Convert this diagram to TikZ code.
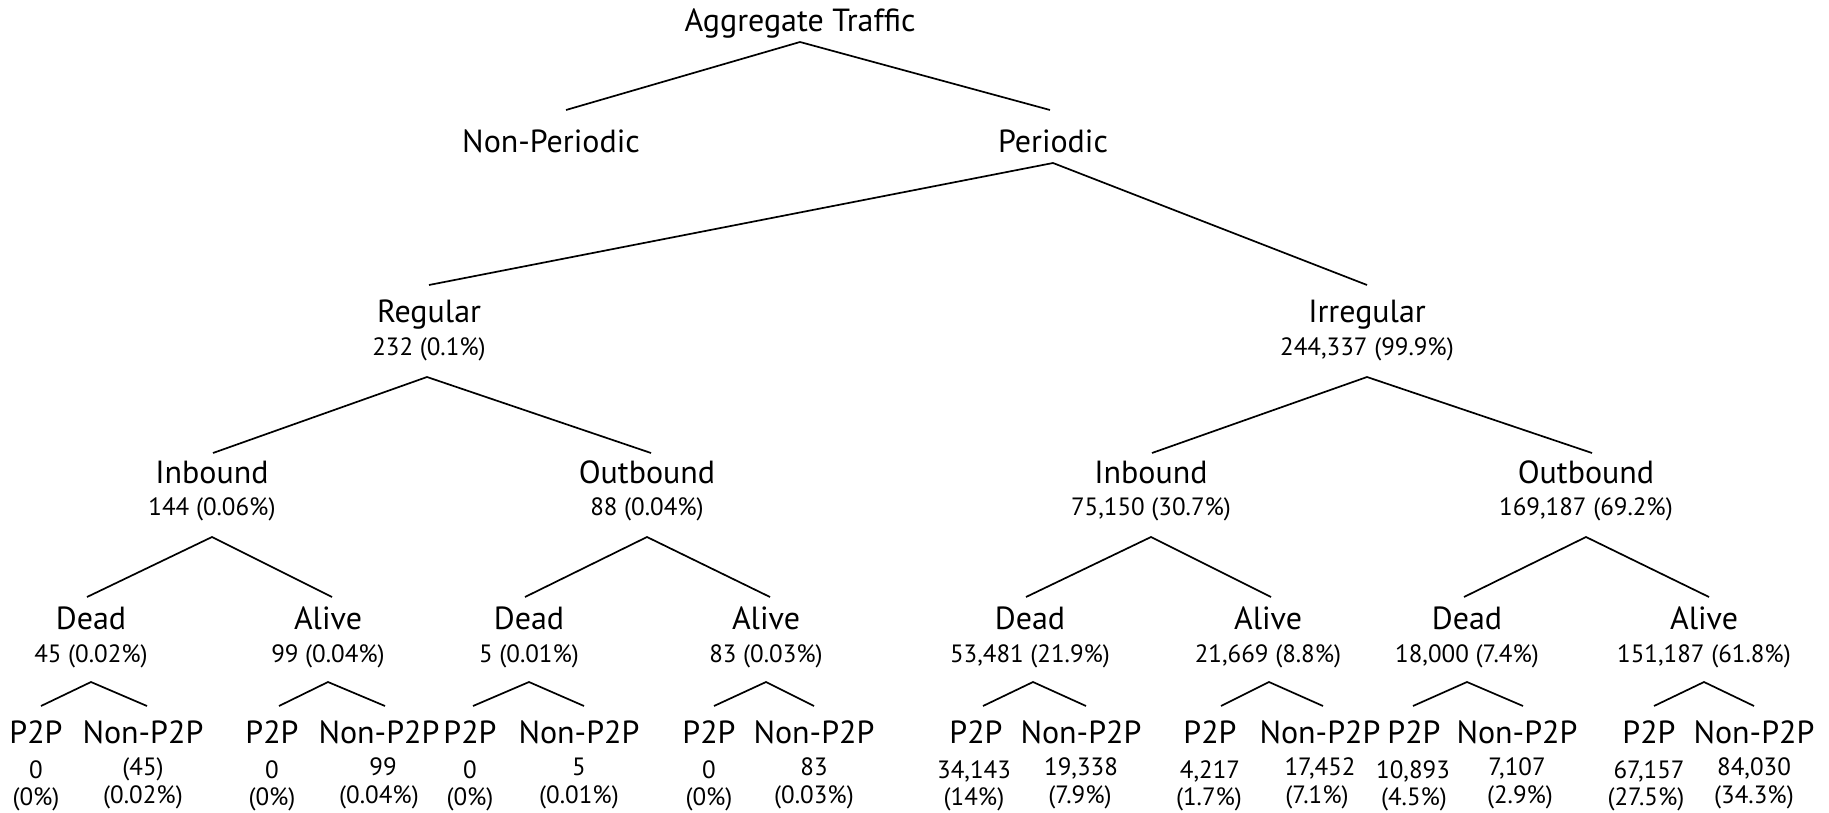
\documentclass[tikz,border=0pt]{standalone}
\usepackage{fontspec}
\setmainfont{PT Sans}
\begin{document}
\tikzset{
  lbl/.style={anchor=base, inner sep=0pt, font=\fontsize{32}{34}\selectfont},
  num/.style={anchor=base, inner sep=0pt, font=\fontsize{25}{27}\selectfont},
  br/.style={line width=1.7pt, black}
}
\begin{tikzpicture}[x=1pt,y=-1pt]
\useasboundingbox (0,0) rectangle (1829,813);
% level 0-1
\node[lbl] (agg) at (800,32) {Aggregate Traffic};
\node[lbl] (np) at (551,153) {Non-Periodic};
\node[lbl] (per) at (1053,153) {Periodic};
% level 2
\node[lbl] (reg) at (429,322) {Regular};
\node[num] (regc) at (429,355) {232 (0.1\%)};
\node[lbl] (irr) at (1367,322) {Irregular};
\node[num] (irrc) at (1367,355) {244,337 (99.9\%)};
% level 3
\node[lbl] (ri) at (212,483) {Inbound};
\node[num] (ric) at (212,515) {144 (0.06\%)};
\node[lbl] (ro) at (647,483) {Outbound};
\node[num] (roc) at (647,515) {88 (0.04\%)};
\node[lbl] (ii) at (1151,483) {Inbound};
\node[num] (iic) at (1151,515) {75,150 (30.7\%)};
\node[lbl] (io) at (1586,483) {Outbound};
\node[num] (ioc) at (1586,515) {169,187 (69.2\%)};
% level 4
\node[lbl] (rid) at (91,629) {Dead};
\node[num] (ridc) at (91,662) {45 (0.02\%)};
\node[lbl] (ria) at (328,629) {Alive};
\node[num] (riac) at (328,662) {99 (0.04\%)};
\node[lbl] (rod) at (529,629) {Dead};
\node[num] (rodc) at (529,662) {5 (0.01\%)};
\node[lbl] (roa) at (766,629) {Alive};
\node[num] (roac) at (766,662) {83 (0.03\%)};
\node[lbl] (iid) at (1030,629) {Dead};
\node[num] (iidc) at (1030,662) {53,481 (21.9\%)};
\node[lbl] (iia) at (1268,629) {Alive};
\node[num] (iiac) at (1268,662) {21,669 (8.8\%)};
\node[lbl] (iod) at (1467,629) {Dead};
\node[num] (iodc) at (1467,662) {18,000 (7.4\%)};
\node[lbl] (ioa) at (1704,629) {Alive};
\node[num] (ioac) at (1704,662) {151,187 (61.8\%)};
% level 5 leaves
\node[lbl] (l1) at (36,743) {P2P};
\node[num] (l1v) at (36,778) {0};
\node[num] (l1p) at (36,805) {(0\%)};
\node[lbl] (l2) at (143,743) {Non-P2P};
\node[num] (l2v) at (143,775) {(45)};
\node[num] (l2p) at (143,803) {(0.02\%)};
\node[lbl] (l3) at (272,743) {P2P};
\node[num] (l3v) at (272,778) {0};
\node[num] (l3p) at (272,805) {(0\%)};
\node[lbl] (l4) at (379,743) {Non-P2P};
\node[num] (l4v) at (383,775) {99};
\node[num] (l4p) at (379,803) {(0.04\%)};
\node[lbl] (l5) at (470,743) {P2P};
\node[num] (l5v) at (470,778) {0};
\node[num] (l5p) at (470,805) {(0\%)};
\node[lbl] (l6) at (579,743) {Non-P2P};
\node[num] (l6v) at (579,775) {5};
\node[num] (l6p) at (579,803) {(0.01\%)};
\node[lbl] (l7) at (709,743) {P2P};
\node[num] (l7v) at (709,778) {0};
\node[num] (l7p) at (709,805) {(0\%)};
\node[lbl] (l8) at (814,743) {Non-P2P};
\node[num] (l8v) at (814,775) {83};
\node[num] (l8p) at (814,803) {(0.03\%)};
\node[lbl] (l9) at (976,743) {P2P};
\node[num] (l9v) at (974,778) {34,143};
\node[num] (l9p) at (974,805) {(14\%)};
\node[lbl] (l10) at (1081,743) {Non-P2P};
\node[num] (l10v) at (1081,775) {19,338};
\node[num] (l10p) at (1080,803) {(7.9\%)};
\node[lbl] (l11) at (1210,743) {P2P};
\node[num] (l11v) at (1210,778) {4,217};
\node[num] (l11p) at (1209,805) {(1.7\%)};
\node[lbl] (l12) at (1320,743) {Non-P2P};
\node[num] (l12v) at (1320,775) {17,452};
\node[num] (l12p) at (1317,803) {(7.1\%)};
\node[lbl] (l13) at (1414,743) {P2P};
\node[num] (l13v) at (1413,778) {10,893};
\node[num] (l13p) at (1414,805) {(4.5\%)};
\node[lbl] (l14) at (1517,743) {Non-P2P};
\node[num] (l14v) at (1517,775) {7,107};
\node[num] (l14p) at (1520,803) {(2.9\%)};
\node[lbl] (l15) at (1649,743) {P2P};
\node[num] (l15v) at (1649,778) {67,157};
\node[num] (l15p) at (1646,805) {(27.5\%)};
\node[lbl] (l16) at (1754,743) {Non-P2P};
\node[num] (l16v) at (1754,775) {84,030};
\node[num] (l16p) at (1754,803) {(34.3\%)};
% connectors
\draw[br] ([xshift=15pt,yshift=43pt]np.base) -- ([yshift=-10pt]agg.base) -- ([xshift=-3pt,yshift=43pt]per.base);
\draw[br] ([yshift=37pt]reg.base) -- ([yshift=-10pt]per.base) -- ([yshift=37pt]irr.base);
\draw[br] ([xshift=1pt,yshift=30pt]ri.base) -- ([xshift=-2pt,yshift=-22pt]regc.base) -- ([xshift=4pt,yshift=30pt]ro.base);
\draw[br] ([xshift=1pt,yshift=30pt]ii.base) -- ([yshift=-22pt]irrc.base) -- ([xshift=6pt,yshift=30pt]io.base);
\draw[br] ([xshift=-4pt,yshift=32pt]rid.base) -- ([yshift=-22pt]ric.base) -- ([xshift=4pt,yshift=32pt]ria.base);
\draw[br] ([xshift=-4pt,yshift=32pt]rod.base) -- ([yshift=-22pt]roc.base) -- ([xshift=4pt,yshift=32pt]roa.base);
\draw[br] ([xshift=-4pt,yshift=32pt]iid.base) -- ([yshift=-22pt]iic.base) -- ([xshift=3pt,yshift=32pt]iia.base);
\draw[br] ([xshift=-3pt,yshift=32pt]iod.base) -- ([yshift=-22pt]ioc.base) -- ([xshift=5pt,yshift=32pt]ioa.base);
\draw[br] ([xshift=5pt,yshift=37pt]l1.base) -- ([yshift=-20pt]ridc.base) -- ([xshift=4pt,yshift=37pt]l2.base);
\draw[br] ([xshift=7pt,yshift=37pt]l3.base) -- ([yshift=-20pt]riac.base) -- ([xshift=6pt,yshift=37pt]l4.base);
\draw[br] ([xshift=3pt,yshift=37pt]l5.base) -- ([yshift=-20pt]rodc.base) -- ([xshift=5pt,yshift=37pt]l6.base);
\draw[br] ([xshift=5pt,yshift=37pt]l7.base) -- ([yshift=-20pt]roac.base) -- ([yshift=37pt]l8.base);
\draw[br] ([xshift=7pt,yshift=37pt]l9.base) -- ([xshift=3pt,yshift=-20pt]iidc.base) -- ([xshift=5pt,yshift=37pt]l10.base);
\draw[br] ([xshift=11pt,yshift=37pt]l11.base) -- ([xshift=1pt,yshift=-20pt]iiac.base) -- ([xshift=3pt,yshift=37pt]l12.base);
\draw[br] ([xshift=-1pt,yshift=37pt]l13.base) -- ([yshift=-20pt]iodc.base) -- ([xshift=6pt,yshift=37pt]l14.base);
\draw[br] ([xshift=5pt,yshift=37pt]l15.base) -- ([yshift=-20pt]ioac.base) -- ([yshift=37pt]l16.base);
\end{tikzpicture}
\end{document}
